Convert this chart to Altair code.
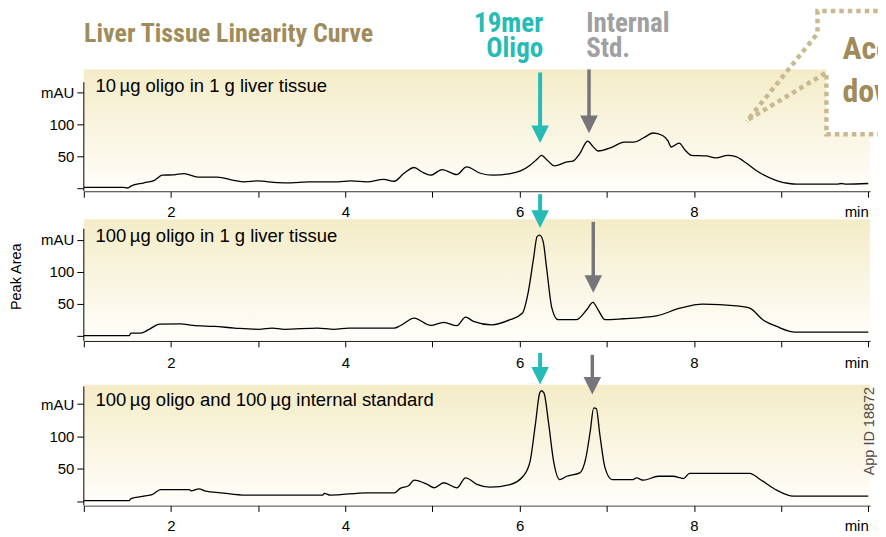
import altair as alt
import pandas as pd

# ---------------- data (time in min, signal in mAU) ----------------
p1_t = [1.00, 1.45, 1.50, 1.54, 1.69, 1.81, 1.90, 2.03, 2.15, 2.31, 2.53, 2.72, 2.84, 2.99, 3.22, 3.38,
        3.57, 3.91, 4.06, 4.25, 4.44, 4.56, 4.67, 4.79, 4.88, 4.98, 5.11, 5.28, 5.39, 5.55, 5.69, 5.89,
        6.01, 6.12, 6.20, 6.25, 6.32, 6.40, 6.54, 6.61, 6.69, 6.78, 6.84, 6.90, 7.05, 7.20, 7.31, 7.42,
        7.53, 7.64, 7.70, 7.74, 7.83, 7.90, 7.97, 8.14, 8.25, 8.39, 8.48, 8.60, 8.71, 8.94, 9.09, 9.18,
        9.64, 9.69, 9.75, 10.0]
p1_v = [2, 2, 1, 4, 9, 13, 21, 21.6, 23.5, 18, 18, 13, 10.5, 12, 9.5, 9,
        10.5, 10.5, 12, 10.5, 14.5, 11.5, 23.5, 33, 26, 21, 29.7, 22, 33.8, 24, 21, 23.5,
        27.6, 36.5, 46, 52, 44, 35.4, 41.6, 43, 54.7, 74.3, 66, 58.7, 64, 72.6, 72.6, 79,
        86.8, 83, 75, 65, 71, 60, 52, 51, 48, 52, 50, 40, 28.7, 13, 8, 6.9,
        6.9, 8, 7, 8]

p2_t = [1.00, 1.52, 1.54, 1.65, 1.75, 1.87, 2.11, 2.25, 2.50, 2.73, 3.01, 3.16, 3.30, 3.68, 3.87, 4.04,
        4.56, 4.63, 4.79, 4.98, 5.13, 5.28, 5.38, 5.47, 5.68, 5.89, 6.03, 6.10, 6.16, 6.20, 6.23, 6.27,
        6.31, 6.37, 6.44, 6.65, 6.77, 6.84, 6.90, 6.98, 7.19, 7.57, 7.84, 8.10, 8.49, 8.64, 8.79, 8.95,
        9.16, 10.0]
p2_v = [0, 0, 4, 4, 10, 18, 18.6, 16, 14.5, 12, 10, 12, 10, 12, 10, 12,
        12, 15.6, 27.5, 16, 20.8, 15.6, 29, 22.4, 17, 25, 35, 69, 121, 154.7, 157, 147,
        105, 43, 25, 25, 40.5, 52, 40.5, 25, 26.5, 31, 43, 49.3, 46.7, 43, 25, 14.5,
        5.7, 5.7]

p3_t = [1.00, 1.52, 1.54, 1.69, 1.79, 1.88, 2.21, 2.23, 2.32, 2.40, 2.57, 2.86, 3.74, 3.76, 3.83, 4.25,
        4.56, 4.63, 4.73, 4.79, 4.94, 5.02, 5.13, 5.28, 5.38, 5.51, 5.66, 5.89, 6.04, 6.12, 6.18, 6.23,
        6.25, 6.28, 6.33, 6.39, 6.46, 6.54, 6.69, 6.76, 6.81, 6.85, 6.88, 6.92, 6.98, 7.06, 7.30, 7.34,
        7.42, 7.59, 7.76, 7.88, 7.95, 8.64, 8.76, 8.95, 9.14, 10.0]
p3_v = [1, 1, 4, 7.8, 10.4, 18, 18, 16, 19, 15.5, 13, 9.3, 9.3, 12, 9.3, 13,
        13, 19.7, 24.3, 32.6, 26, 20.7, 28.5, 20.7, 36, 26, 21.6, 25.7, 38.5, 61.6, 118, 167,
        170.6, 167, 123, 61.6, 33.4, 38.5, 43.8, 66.9, 108, 144, 143, 103, 51.5, 33.4, 33.4, 36,
        32.4, 38.5, 38.5, 35, 43, 43, 33.6, 17, 7.8, 7.8]

panel_labels = ["10\u2009µg oligo in 1 g liver tissue",
                "100\u2009µg oligo in 1 g liver tissue",
                "100\u2009µg oligo and 100\u2009µg internal standard"]
x_ticks = list(range(1, 11))
y_ticks = [0, 50, 100, 150]

TEAL = "#26bcb5"
GRAY = "#76767a"
GRAY_TXT = "#a0a0a3"
TAN = "#a08c5a"
DOTS = "#c8b991"
SANS = "Liberation Sans"
NARROW = "Roboto Condensed, Liberation Sans Narrow, Arial Narrow, DejaVu Sans Condensed"

X_DOM = [1, 10.02]
W = 788

grad = alt.Gradient(gradient="linear", x1=0, x2=0, y1=0, y2=1,
                    stops=[alt.GradientStop(color="#f4ecc7", offset=0),
                           alt.GradientStop(color="#faf6e4", offset=0.55),
                           alt.GradientStop(color="#fffefa", offset=1)])


def make_axes(pad):
    xaxis = alt.Axis(values=x_ticks, title=None, grid=False, tickSize=6, labelPadding=pad,
                     labelFontSize=15, labelFont=SANS, labelColor="black", domainColor="black",
                     tickColor="black", labelFlush=False,
                     labelExpr="datum.value == 10 ? 'min' : (datum.value % 2 == 0 ? datum.label : '')",
                     labelAlign={"condition": {"test": "datum.value == 10", "value": "right"},
                                 "value": "center"})
    yaxis = alt.Axis(values=y_ticks, title=None, grid=False, domain=False, tickSize=7, labelPadding=3,
                     labelFontSize=15, labelFont=SANS, labelColor="black", tickColor="black",
                     labelExpr="datum.value == 150 ? 'mAU' : (datum.value == 0 ? '' : datum.label)")
    return xaxis, yaxis


def panel(t, v, ydom, h, bg, axis_top, label, label_v, arrows, extras=(), pad=7):
    xaxis, yaxis = make_axes(pad)
    xs = alt.Scale(domain=X_DOM, nice=False, zero=False)
    ys = alt.Scale(domain=ydom, nice=False, zero=False)
    X = alt.X("t:Q", scale=xs, axis=xaxis)
    Y = alt.Y("v:Q", scale=ys, axis=yaxis)
    Y2h = alt.Y("v2:Q", scale=ys, axis=yaxis)
    layers = []
    bgdf = pd.DataFrame({"t": [X_DOM[0]], "t2": [X_DOM[1]], "v": [bg[0]], "v2": [bg[1]]})
    layers.append(alt.Chart(bgdf).mark_rect(color=grad).encode(x=X, x2="t2", y=Y, y2="v2"))
    ax = pd.DataFrame({"t": [1], "v": [ydom[0]], "v2": [axis_top]})
    layers.append(alt.Chart(ax).mark_rule(color="black", strokeWidth=1).encode(x=X, y=Y, y2="v2"))
    layers.append(alt.Chart(pd.DataFrame({"t": t, "v": v})).mark_line(
        color="black", strokeWidth=1.3, strokeJoin="round", interpolate="monotone").encode(x=X, y=Y))
    layers.append(alt.Chart(pd.DataFrame({"t": [1.133], "v": [label_v], "s": [label]})).mark_text(
        align="left", baseline="alphabetic", font=SANS, fontSize=18.5, color="black").encode(
        x=X, y=Y, text="s:N"))
    for (at, top, head, col, w) in arrows:
        d = pd.DataFrame({"t": [at], "v": [top], "v2": [head]})
        layers.append(alt.Chart(d).mark_rule(color=col, strokeWidth=w).encode(x=X, y=Y, y2="v2"))
        layers.append(alt.Chart(d).mark_point(shape="M-1,-1L1,-1L0,1Z", filled=True, opacity=1,
                                              size=310, color=col, strokeWidth=0).encode(x=X, y=Y2h))
    for e in extras:
        layers.append(e(X, Y))
    return alt.layer(*layers).properties(width=W, height=h)


# ---- panel 1 extras (title, annotations, callout box) ----
D1 = [-4, 186]


def title_layer(X, Y):
    d = pd.DataFrame({"t": [1.003], "v": [229.6], "s": ["Liver Tissue Linearity Curve"]})
    return alt.Chart(d).mark_text(align="left", baseline="alphabetic", font=NARROW, fontWeight="bold",
                                  fontSize=26, color=TAN).encode(x=X, y=Y, text="s:N")


def oligo_layer(X, Y):
    d = pd.DataFrame({"t": [6.269, 6.269], "v": [245.2, 204.7], "s": ["19mer", "Oligo"]})
    return alt.Chart(d).mark_text(align="right", baseline="alphabetic", font=NARROW, fontWeight="bold",
                                  fontSize=27, color=TEAL).encode(x=X, y=Y, text="s:N")


def istd_layer(X, Y):
    d = pd.DataFrame({"t": [6.763, 6.763], "v": [245.2, 204.7], "s": ["Internal", "Std."]})
    return alt.Chart(d).mark_text(align="left", baseline="alphabetic", font=NARROW, fontWeight="bold",
                                  fontSize=27, color=GRAY_TXT).encode(x=X, y=Y, text="s:N")


def box_fill(X, Y):
    d = pd.DataFrame({"t": [9.52], "t2": [10.4], "v": [84.8], "v2": [200]})
    return alt.Chart(d).mark_rect(color="white").encode(x=X, x2="t2", y=Y, y2="v2")


def box_line(X, Y):
    d = pd.DataFrame({
        "t": [10.4, 9.417, 9.417, 8.604, 8.627, 9.520, 9.520, 10.4],
        "v": [277.2, 277.2, 242.1, 105.0, 108.1, 181.3, 84.8, 84.8],
        "seg": ["a", "a", "a", "a", "b", "b", "b", "b"],
        "o": [0, 1, 2, 3, 0, 1, 2, 3]})
    return alt.Chart(d).mark_line(color=DOTS, strokeWidth=4.5, strokeDash=[4.5, 4],
                                  strokeCap="butt").encode(x=X, y=Y, detail="seg:N", order="o:Q")


def box_text(X, Y):
    d = pd.DataFrame({"t": [9.703, 9.703], "v": [203.1, 134.6], "s": ["Acc", "dow"]})
    return alt.Chart(d).mark_text(align="left", baseline="alphabetic", font=NARROW, fontWeight="bold",
                                  fontSize=32, color=TAN).encode(x=X, y=Y, text="s:N")


def anchor_tl(X, Y):
    d = pd.DataFrame({"t": [0.145], "v": [281.0]})
    return alt.Chart(d).mark_point(size=1, opacity=0, filled=True, strokeWidth=0).encode(x=X, y=Y)


p1 = panel(p1_t, p1_v, D1, 122, (-4, 186), 166, panel_labels[0], 150.6,
           [(6.235, 181.3, 84.8, TEAL, 4), (6.796, 186, 100.3, GRAY, 3.5)],
           [title_layer, oligo_layer, istd_layer, box_fill, box_line, box_text, anchor_tl], pad=7)

# ---- panel 2 ----
D2 = [-8, 182]


def peak_area(X, Y):
    d = pd.DataFrame({"t": [0.278], "v": [92.1], "s": ["Peak Area"]})
    return alt.Chart(d).mark_text(align="center", baseline="alphabetic", angle=270, font=SANS,
                                  fontSize=14.5, color="black").encode(x=X, y=Y, text="s:N")


p2 = panel(p2_t, p2_v, D2, 122, (-8, 182), 167, panel_labels[1], 146.6,
           [(6.235, 220.9, 182, TEAL, 4), (6.845, 177.8, 80.8, GRAY, 3.5)],
           [peak_area], pad=9)

# ---- panel 3 ----
D3 = [-6.6, 204.5]


def app_id(X, Y):
    d = pd.DataFrame({"t": [10.068], "v": [108.2], "s": ["App ID 18872"]})
    return alt.Chart(d).mark_text(align="center", baseline="alphabetic", angle=270, font=SANS,
                                  fontSize=14.5, color="#4d4d4d").encode(x=X, y=Y, text="s:N")


def anchor_br(X, Y):
    d = pd.DataFrame({"t": [11.04], "v": [-89.8]})
    return alt.Chart(d).mark_point(size=1, opacity=0, filled=True, strokeWidth=0).encode(x=X, y=Y)


p3 = panel(p3_t, p3_v, D3, 137, (-6.6, 179.8), 177.2, panel_labels[2], 146.4,
           [(6.235, 229, 193.7, TEAL, 4), (6.834, 226, 178.3, GRAY, 3.5)],
           [app_id, anchor_br], pad=7)

chart = alt.vconcat(p1, p2, p3, spacing=28, bounds="flush").properties(
    padding={"left": 0, "top": -7, "right": -82, "bottom": -22}).configure_view(stroke=None)

chart.save("out.html", embed_options={"renderer": "svg", "actions": False})
